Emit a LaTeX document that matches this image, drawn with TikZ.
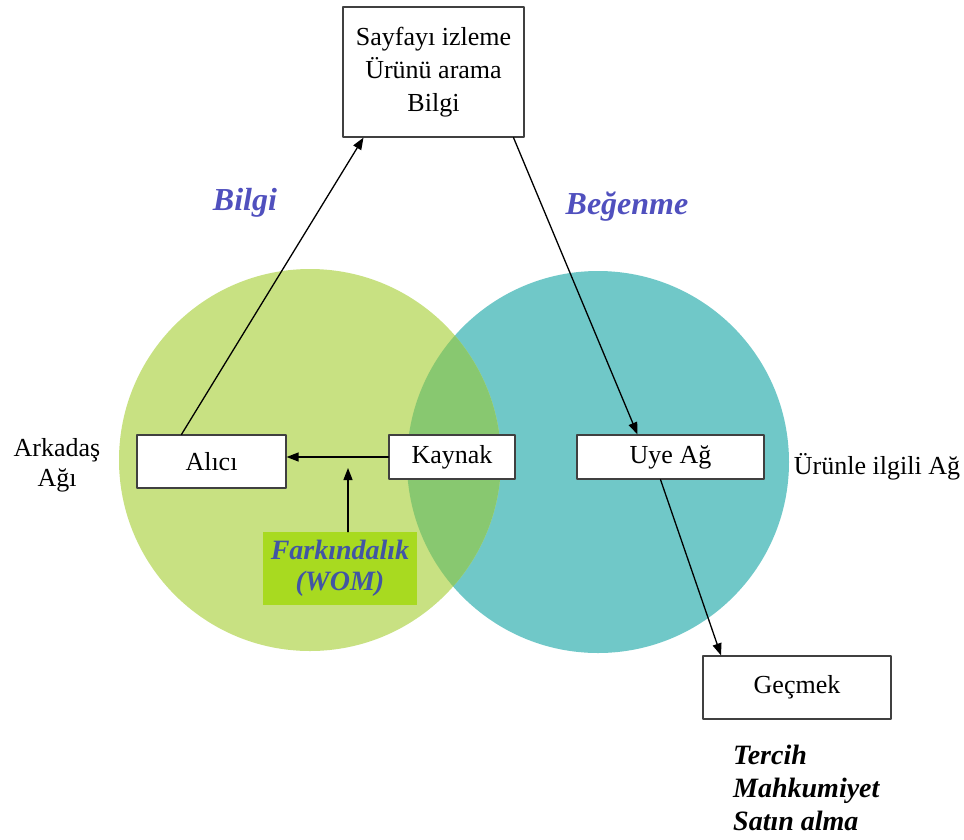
\documentclass[tikz,border=0pt]{standalone}
\usepackage{fontspec}
\setmainfont{Liberation Serif}
\usepackage{tikz}
\usetikzlibrary{arrows}
\usetikzlibrary{arrows.meta}
\definecolor{yesil}{RGB}{200,225,130}
\definecolor{turkuaz}{RGB}{112,200,200}
\definecolor{kesisim}{RGB}{136,200,112}
\definecolor{fistik}{RGB}{168,218,32}
\definecolor{mavi}{RGB}{80,80,190}
\definecolor{koyumavi}{RGB}{65,85,165}

\begin{document}
\begin{tikzpicture}[line cap=round,line join=round,>={Triangle[length=12pt,width=9pt]},x=1pt,y=-1pt,
  kutu/.style={draw=black!75,line width=1.2pt,fill=white,inner sep=0pt,font=\fontsize{26}{33}\selectfont},
  baslik/.style={text=mavi,font=\fontsize{32}{38}\selectfont\bfseries\itshape},
  ok/.style={->,line width=1.3pt}]
\useasboundingbox (0,0) rectangle (964,839);
\fill [color=turkuaz] (598,462) circle (191pt);
\fill [color=yesil] (310,460) circle (191pt);
\begin{scope}
\clip (598,462) circle (191pt);
\fill [color=kesisim] (310,460) circle (191pt);
\end{scope}
\node[kutu,align=center,minimum width=181pt,minimum height=130pt] (sayfa) at (433.5,72) {Sayfayı izleme\\Ürünü arama\\Bilgi};
\node[kutu,minimum width=149pt,minimum height=53pt] (alici) at (211.5,461.5) {Alıcı};
\node[kutu,minimum width=126pt,minimum height=44pt] (kaynak) at (452,457) {Kaynak};
\node[kutu,minimum width=187pt,minimum height=44pt] (uye) at (670.5,457) {Uye Ağ};
\node[kutu,minimum width=188pt,minimum height=63pt] (gecmek) at (797,687.5) {Geçmek};
\node[fill=fistik,text=koyumavi,align=center,inner sep=0pt,minimum width=154pt,minimum height=73pt,font=\fontsize{28}{31}\selectfont\bfseries\itshape] (fark) at (340,568.5) {Farkındalık\\(WOM)};
\node[baslik] (bilgi) at (245,203) {Bilgi};
\node[baslik] (begenme) at (627,207) {Beğenme};
\node[align=center,font=\fontsize{26}{30}\selectfont] (arkadas) at (57,465) {Arkadaş\\Ağı};
\node[font=\fontsize{26}{30}\selectfont] (urunle) at (877,467) {Ürünle ilgili Ağ};
\node[anchor=west,align=left,inner sep=0pt,font=\fontsize{28}{33}\selectfont\bfseries\itshape] (tercih) at (733,788) {Tercih\\Mahkumiyet\\Satın alma};
\coordinate (womalt) at ([xshift=8pt]fark.north);
\coordinate (womuc) at ([yshift=-11pt]womalt |- kaynak.west);
\draw[ok] ([xshift=-30pt]alici.north) -- ([xshift=-70pt]sayfa.south);
\draw[ok] ([xshift=80pt]sayfa.south) -- ([xshift=-33pt]uye.north);
\draw[ok] (kaynak.west) -- (kaynak.west -| alici.east);
\draw[ok] (womalt) -- (womuc);
\draw[ok] ([xshift=-10pt]uye.south) -- ([xshift=-76pt]gecmek.north);
\end{tikzpicture}
\end{document}
